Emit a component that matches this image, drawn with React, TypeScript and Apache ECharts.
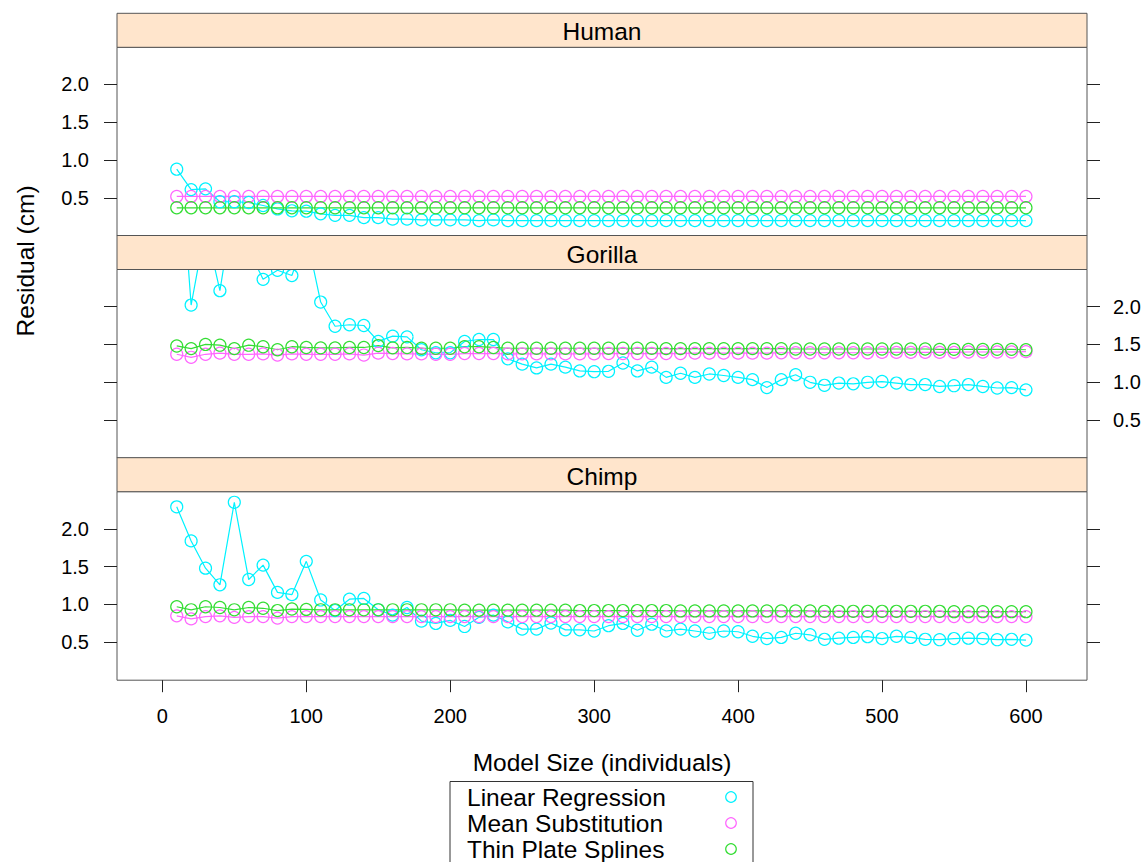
import React, { useEffect, useRef } from "react";
import * as echarts from "echarts";

const modelSizes = [
  10, 20, 30, 40, 50, 60, 70, 80, 90, 100, 110, 120, 130, 140, 150, 160, 170, 180, 190, 200,
  210, 220, 230, 240, 250, 260, 270, 280, 290, 300, 310, 320, 330, 340, 350, 360, 370, 380, 390, 400,
  410, 420, 430, 440, 450, 460, 470, 480, 490, 500, 510, 520, 530, 540, 550, 560, 570, 580, 590, 600,
];
const panelNames = ["Human", "Gorilla", "Chimp"];
const methodNames = ["Linear Regression", "Mean Substitution", "Thin Plate Splines"];
const methodColors = ["#00f2ff", "#ff66ff", "#33dd33"];
const xTicks = [0, 100, 200, 300, 400, 500, 600];
const yTicks = [0.5, 1.0, 1.5, 2.0];

const humanLinear = [
  0.88, 0.61, 0.62, 0.45, 0.45, 0.44, 0.40, 0.355, 0.33, 0.325,
  0.29, 0.27, 0.27, 0.24, 0.24, 0.22, 0.22, 0.21, 0.21, 0.21,
  0.21, 0.20, 0.21, 0.20, 0.20, 0.20, 0.20, 0.20, 0.20, 0.20,
  0.20, 0.20, 0.20, 0.20, 0.20, 0.20, 0.20, 0.20, 0.20, 0.20,
  0.20, 0.20, 0.20, 0.20, 0.20, 0.20, 0.20, 0.20, 0.20, 0.20,
  0.20, 0.20, 0.20, 0.20, 0.20, 0.20, 0.20, 0.20, 0.20, 0.20,
];
const humanMean = [
  0.52, 0.52, 0.52, 0.52, 0.52, 0.52, 0.52, 0.52, 0.52, 0.52,
  0.52, 0.52, 0.52, 0.52, 0.52, 0.52, 0.52, 0.52, 0.52, 0.52,
  0.52, 0.52, 0.52, 0.52, 0.52, 0.52, 0.52, 0.52, 0.52, 0.52,
  0.52, 0.52, 0.52, 0.52, 0.52, 0.52, 0.52, 0.52, 0.52, 0.52,
  0.52, 0.52, 0.52, 0.52, 0.52, 0.52, 0.52, 0.52, 0.52, 0.52,
  0.52, 0.52, 0.52, 0.52, 0.52, 0.52, 0.52, 0.52, 0.52, 0.52,
];
const humanSplines = [
  0.37, 0.37, 0.37, 0.37, 0.37, 0.37, 0.37, 0.37, 0.37, 0.37,
  0.37, 0.37, 0.37, 0.37, 0.37, 0.37, 0.37, 0.37, 0.37, 0.37,
  0.37, 0.37, 0.37, 0.37, 0.37, 0.37, 0.37, 0.37, 0.37, 0.37,
  0.37, 0.37, 0.37, 0.37, 0.37, 0.37, 0.37, 0.37, 0.37, 0.37,
  0.37, 0.37, 0.37, 0.37, 0.37, 0.37, 0.37, 0.37, 0.37, 0.37,
  0.37, 0.37, 0.37, 0.37, 0.37, 0.37, 0.37, 0.37, 0.37, 0.37,
];

const gorillaLinear = [
  4.6, 2.02, 3.05, 2.21, 3.4, 2.75, 2.36, 2.48, 2.41, 2.95,
  2.06, 1.74, 1.76, 1.75, 1.54, 1.61, 1.60, 1.43, 1.39, 1.39,
  1.54, 1.565, 1.565, 1.31, 1.24, 1.19, 1.24, 1.20, 1.15, 1.14,
  1.145, 1.255, 1.15, 1.20, 1.065, 1.12, 1.065, 1.11, 1.09, 1.065,
  1.035, 0.93, 1.035, 1.10, 1.00, 0.96, 0.99, 0.98, 1.00, 1.01,
  0.99, 0.97, 0.97, 0.945, 0.955, 0.97, 0.945, 0.925, 0.93, 0.90,
];
const gorillaMean = [
  1.37, 1.33, 1.37, 1.385, 1.37, 1.37, 1.375, 1.36, 1.375, 1.37,
  1.37, 1.37, 1.375, 1.36, 1.385, 1.38, 1.375, 1.375, 1.37, 1.37,
  1.38, 1.38, 1.38, 1.375, 1.375, 1.375, 1.375, 1.375, 1.375, 1.375,
  1.38, 1.38, 1.38, 1.38, 1.38, 1.38, 1.385, 1.385, 1.385, 1.385,
  1.385, 1.385, 1.39, 1.39, 1.39, 1.39, 1.39, 1.39, 1.39, 1.395,
  1.395, 1.395, 1.395, 1.395, 1.395, 1.40, 1.40, 1.40, 1.40, 1.405,
];
const gorillaSplines = [
  1.48, 1.445, 1.50, 1.49, 1.445, 1.49, 1.47, 1.43, 1.47, 1.46,
  1.455, 1.455, 1.46, 1.46, 1.485, 1.455, 1.46, 1.45, 1.45, 1.45,
  1.47, 1.47, 1.46, 1.45, 1.45, 1.45, 1.45, 1.45, 1.45, 1.45,
  1.45, 1.45, 1.45, 1.45, 1.445, 1.445, 1.445, 1.445, 1.445, 1.445,
  1.445, 1.445, 1.445, 1.44, 1.44, 1.44, 1.44, 1.44, 1.44, 1.44,
  1.44, 1.44, 1.44, 1.435, 1.435, 1.435, 1.435, 1.435, 1.435, 1.43,
];

const chimpLinear = [
  2.29, 1.84, 1.48, 1.26, 2.35, 1.33, 1.52, 1.16, 1.13, 1.57,
  1.06, 0.92, 1.07, 1.08, 0.93, 0.86, 0.96, 0.78, 0.75, 0.79,
  0.71, 0.83, 0.86, 0.77, 0.675, 0.675, 0.755, 0.665, 0.665, 0.65,
  0.72, 0.75, 0.66, 0.74, 0.65, 0.675, 0.65, 0.62, 0.65, 0.64,
  0.58, 0.55, 0.565, 0.62, 0.60, 0.54, 0.555, 0.565, 0.575, 0.55,
  0.58, 0.565, 0.54, 0.535, 0.55, 0.555, 0.55, 0.535, 0.54, 0.53,
];
const chimpMean = [
  0.85, 0.81, 0.84, 0.85, 0.83, 0.84, 0.84, 0.82, 0.84, 0.84,
  0.84, 0.84, 0.84, 0.84, 0.84, 0.84, 0.84, 0.84, 0.84, 0.84,
  0.84, 0.84, 0.84, 0.84, 0.84, 0.84, 0.84, 0.84, 0.84, 0.84,
  0.84, 0.84, 0.84, 0.84, 0.84, 0.84, 0.84, 0.84, 0.84, 0.84,
  0.84, 0.84, 0.84, 0.84, 0.84, 0.84, 0.84, 0.84, 0.84, 0.84,
  0.84, 0.84, 0.84, 0.84, 0.84, 0.84, 0.84, 0.84, 0.84, 0.84,
];
const chimpSplines = [
  0.97, 0.93, 0.97, 0.96, 0.93, 0.96, 0.95, 0.92, 0.94, 0.935,
  0.93, 0.93, 0.93, 0.93, 0.93, 0.93, 0.93, 0.93, 0.93, 0.93,
  0.925, 0.925, 0.925, 0.925, 0.925, 0.925, 0.925, 0.925, 0.92, 0.92,
  0.92, 0.92, 0.92, 0.92, 0.92, 0.915, 0.915, 0.915, 0.915, 0.915,
  0.915, 0.915, 0.915, 0.915, 0.915, 0.91, 0.91, 0.91, 0.91, 0.91,
  0.91, 0.91, 0.91, 0.91, 0.905, 0.905, 0.905, 0.905, 0.905, 0.905,
];

const panelData = [
  [humanLinear, humanMean, humanSplines],
  [gorillaLinear, gorillaMean, gorillaSplines],
  [chimpLinear, chimpMean, chimpSplines],
];

const FONT = '"Liberation Sans", Arial, Helvetica, sans-serif';

export default function App() {
  const ref = useRef<HTMLDivElement>(null);

  useEffect(() => {
    if (!ref.current) return;
    const chart = echarts.init(ref.current, undefined, { renderer: "svg" });

    const left = 117;
    const width = 970;
    const tickLen = 13;
    const stripTops = [13.3, 235.5, 457.7];
    const stripH = 34;
    const plotH = 188.5;
    const plotTops = stripTops.map((t) => t + stripH);
    const labelSides = ["left", "right", "left"];
    const Y_MIN = 0;
    const Y_MAX = 2.49;

    // grids 0-2: data panels; 3-5: left tick strips (axis on their right edge); 6-8: right axis decoration
    const grids: any[] = [];
    plotTops.forEach((t) => {
      grids.push({
        left,
        top: t,
        width,
        height: plotH,
        show: true,
        borderColor: "#555",
        borderWidth: 1,
        backgroundColor: "transparent",
      });
    });
    plotTops.forEach((t) => {
      grids.push({ left: 0, top: t, width: left - tickLen, height: plotH, show: false });
    });
    plotTops.forEach((t) => {
      grids.push({ left, top: t, width, height: plotH, show: false });
    });

    const xAxes: any[] = [];
    panelNames.forEach((_, i) => {
      xAxes.push({
        type: "value",
        gridIndex: i,
        position: "bottom",
        min: -31.5,
        max: 642.4,
        axisLine: { show: false, onZero: false },
        splitLine: { show: false },
        axisTick: {
          show: i === 2,
          customValues: xTicks,
          length: 12,
          inside: false,
          lineStyle: { color: "#222", width: 1 },
        },
        axisLabel: {
          show: i === 2,
          customValues: xTicks,
          margin: 26,
          fontSize: 20,
          color: "#000",
          fontFamily: FONT,
        },
      });
    });
    panelNames.forEach((_, i) => {
      xAxes.push({ type: "value", gridIndex: 3 + i, min: -1, max: 0, show: false });
    });
    panelNames.forEach((_, i) => {
      xAxes.push({ type: "value", gridIndex: 6 + i, min: -1, max: 0, show: false });
    });

    const yAxes: any[] = [];
    panelNames.forEach((_, i) => {
      yAxes.push({ type: "value", gridIndex: i, min: Y_MIN, max: Y_MAX, show: false });
    });
    // left side: right-positioned axis on a strip that ends where the ticks start
    panelNames.forEach((_, i) => {
      yAxes.push({
        type: "value",
        gridIndex: 3 + i,
        position: "right",
        min: Y_MIN,
        max: Y_MAX,
        axisLine: { show: false, onZero: false },
        splitLine: { show: false },
        axisTick: {
          show: true,
          customValues: yTicks,
          length: tickLen,
          inside: false,
          lineStyle: { color: "#222", width: 1 },
        },
        axisLabel: {
          show: labelSides[i] === "left",
          inside: true,
          customValues: yTicks,
          formatter: (v: number) => v.toFixed(1),
          margin: 15,
          fontSize: 20,
          color: "#000",
          fontFamily: FONT,
        },
      });
    });
    panelNames.forEach((_, i) => {
      yAxes.push({
        type: "value",
        gridIndex: 6 + i,
        position: "right",
        min: Y_MIN,
        max: Y_MAX,
        axisLine: { show: false, onZero: false },
        splitLine: { show: false },
        axisTick: {
          show: true,
          customValues: yTicks,
          length: tickLen,
          inside: false,
          lineStyle: { color: "#222", width: 1 },
        },
        axisLabel: {
          show: labelSides[i] === "right",
          customValues: yTicks,
          formatter: (v: number) => v.toFixed(1),
          margin: 26,
          fontSize: 20,
          color: "#000",
          fontFamily: FONT,
        },
      });
    });

    const series: any[] = [];
    panelData.forEach((methods, i) => {
      methods.forEach((vals, j) => {
        series.push({
          type: "line",
          name: `${panelNames[i]} ${methodNames[j]}`,
          xAxisIndex: i,
          yAxisIndex: i,
          data: modelSizes.map((x, k) => [x, vals[k]]),
          symbol: "circle",
          symbolSize: 12,
          showSymbol: true,
          showAllSymbol: true,
          clip: true,
          silent: true,
          itemStyle: { color: "rgba(0,0,0,0)", borderColor: methodColors[j], borderWidth: 1.2 },
          lineStyle: { color: methodColors[j], width: 1.2 },
          emphasis: { disabled: true },
        });
      });
    });

    const graphics: any[] = [];
    panelNames.forEach((name, i) => {
      graphics.push({
        type: "rect",
        z: 100,
        shape: { x: left, y: stripTops[i], width, height: stripH },
        style: { fill: "#ffe5cc", stroke: "#555", lineWidth: 1 },
      });
      graphics.push({
        type: "text",
        z: 101,
        x: left + width / 2,
        y: stripTops[i] + stripH / 2 + 1.5,
        style: {
          text: name,
          fontSize: 24.5,
          fontFamily: FONT,
          fill: "#000",
          align: "center",
          verticalAlign: "middle",
        },
      });
    });
    graphics.push({
      type: "text",
      z: 101,
      x: 25,
      y: 261,
      rotation: Math.PI / 2,
      style: {
        text: "Residual (cm)",
        fontSize: 24.5,
        fontFamily: FONT,
        fill: "#000",
        align: "center",
        verticalAlign: "middle",
      },
    });
    graphics.push({
      type: "text",
      z: 101,
      x: left + width / 2,
      y: 762,
      style: {
        text: "Model Size (individuals)",
        fontSize: 24.5,
        fontFamily: FONT,
        fill: "#000",
        align: "center",
        verticalAlign: "middle",
      },
    });
    graphics.push({
      type: "rect",
      z: 100,
      shape: { x: 450, y: 781.5, width: 303, height: 120 },
      style: { fill: "#fff", stroke: "#333", lineWidth: 1 },
    });
    const legendYs = [797, 823, 849];
    methodNames.forEach((name, j) => {
      graphics.push({
        type: "text",
        z: 101,
        x: 467,
        y: legendYs[j],
        style: {
          text: name,
          fontSize: 24.5,
          fontFamily: FONT,
          fill: "#000",
          align: "left",
          verticalAlign: "middle",
        },
      });
      graphics.push({
        type: "circle",
        z: 101,
        shape: { cx: 731, cy: legendYs[j], r: 5.3 },
        style: { fill: "none", stroke: methodColors[j], lineWidth: 1.2 },
      });
    });

    chart.setOption({
      animation: false,
      backgroundColor: "#fff",
      grid: grids,
      xAxis: xAxes,
      yAxis: yAxes,
      series,
      graphic: { elements: graphics },
    });

    return () => chart.dispose();
  }, []);

  return (
    <div
      ref={ref}
      style={{ position: "fixed", left: 0, top: 0, width: 1147, height: 862 }}
    />
  );
}
